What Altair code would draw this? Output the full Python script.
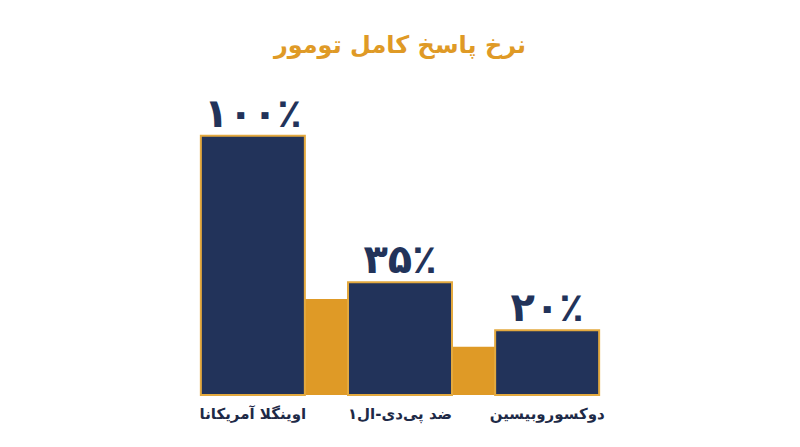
import altair as alt
import pandas as pd

# ---- data ----
treatments = ["اوینگلا آمریکانا", "ضد پی\u200cدی-ال۱", "دوکسوروبیسین"]
response_rate = [100, 35, 20]          # printed values (%)
bar_height = [100, 43.5, 25.0]          # drawn heights of the navy bars
step_height = [37.0, 18.6]              # drawn heights of the gold steps between bars

NAVY = "#22335A"
GOLD = "#DF9A26"
FONT = "DejaVu Sans"

def fa_digits(n):
    return str(n).translate(str.maketrans("0123456789", "۰۱۲۳۴۵۶۷۸۹"))

bars = pd.DataFrame({
    "idx": list(range(len(treatments))),
    "treatment": treatments,
    "h": bar_height,
    "label": [fa_digits(v) + "٪" for v in response_rate],
})
steps = pd.DataFrame({
    "mid": [i + 0.5 for i in range(len(step_height))],
    "h": step_height,
})

xs = alt.Scale(domain=[-1.63, 3.63], nice=False, zero=False)
ys = alt.Scale(domain=[0, 122.25], nice=False)

step_layer = alt.Chart(steps).mark_bar(size=46, color=GOLD).encode(
    x=alt.X("mid:Q", scale=xs, axis=None),
    y=alt.Y("h:Q", scale=ys, axis=None),
)

bar_layer = alt.Chart(bars).mark_bar(size=104, color=NAVY, stroke="#E3A93F", strokeWidth=2).encode(
    x=alt.X("idx:Q", scale=xs, axis=None),
    y=alt.Y("h:Q", scale=ys, axis=None),
)

value_layer = alt.Chart(bars).mark_text(
    font=FONT, fontSize=40, fontWeight="bold", color=NAVY, baseline="bottom", dy=-1
).encode(
    x=alt.X("idx:Q", scale=xs, axis=None),
    y=alt.Y("h:Q", scale=ys, axis=None),
    text="label:N",
)

cat_layer = alt.Chart(bars).mark_text(
    font=FONT, fontSize=15, fontWeight="bold", color="#1E2A47", baseline="middle", dy=19
).encode(
    x=alt.X("idx:Q", scale=xs, axis=None),
    y=alt.value(317),
    text="treatment:N",
)

chart = alt.layer(step_layer, bar_layer, value_layer, cat_layer).properties(
    width=784,
    height=317,
    autosize=alt.AutoSizeParams(type="none"),
    padding={"top": 70, "left": 0, "right": 0, "bottom": 40},
    title=alt.TitleParams(
        text="نرخ پاسخ کامل تومور",
        font=FONT, fontSize=24, fontWeight="bold", color=GOLD,
        anchor="middle", frame="group", offset=20,
    ),
).configure_view(stroke=None)

chart.save("out.html", embed_options={"renderer": "svg", "actions": False})
